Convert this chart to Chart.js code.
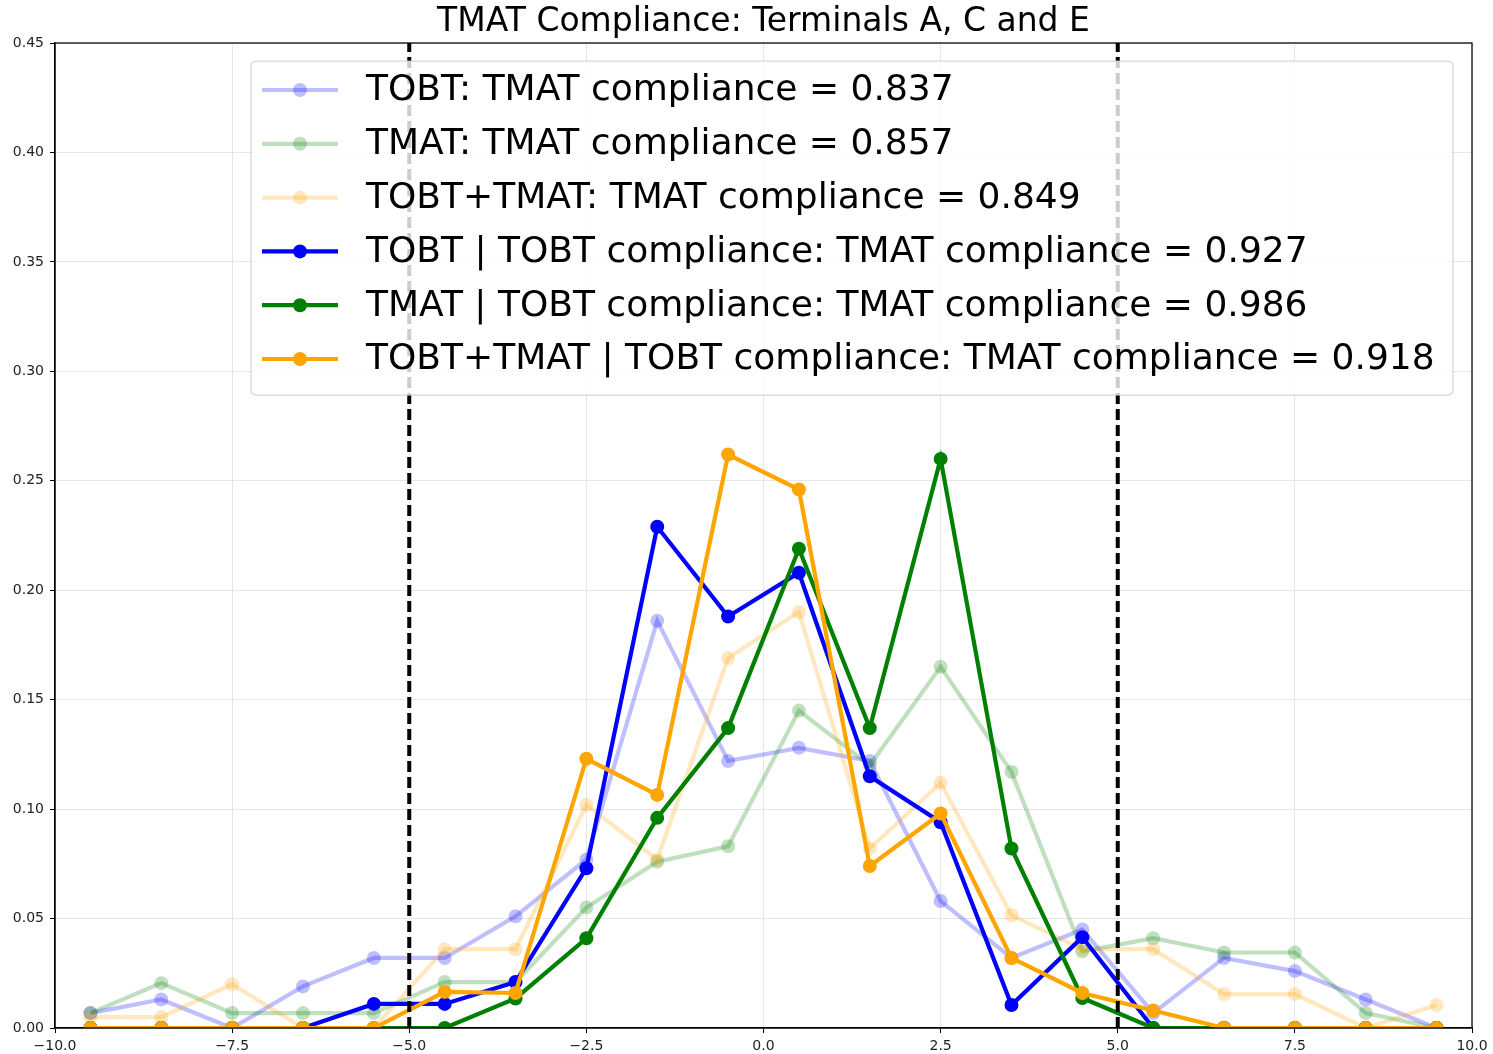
<!DOCTYPE html>
<html>
<head>
<meta charset="utf-8">
<script src="https://cdn.jsdelivr.net/npm/chart.js@4.4.1/dist/chart.umd.min.js"></script>
<style>
  html, body { margin: 0; padding: 0; background: #fff; }
  canvas { display: block; }
</style>
</head>
<body>
<canvas id="chart" width="1493" height="1054"></canvas>
<script>
// bin centres on the x axis
const xBins = [-9.5, -8.5, -7.5, -6.5, -5.5, -4.5, -3.5, -2.5, -1.5, -0.5,
               0.5, 1.5, 2.5, 3.5, 4.5, 5.5, 6.5, 7.5, 8.5, 9.5];

const tobt = [0.0068, 0.013, 0, 0.019, 0.032, 0.032, 0.051, 0.077, 0.186, 0.122,
              0.128, 0.122, 0.058, 0.032, 0.045, 0.0068, 0.032, 0.026, 0.013, 0];
const tmat = [0.0068, 0.0205, 0.0068, 0.0068, 0.0068, 0.021, 0.021, 0.055, 0.076, 0.083,
              0.145, 0.12, 0.165, 0.117, 0.035, 0.041, 0.0345, 0.0345, 0.0068, 0];
const both = [0.005, 0.005, 0.020, 0, 0, 0.036, 0.036, 0.102, 0.077, 0.169,
              0.190, 0.082, 0.112, 0.0515, 0.036, 0.036, 0.0155, 0.0155, 0, 0.0105];
const tobtGivenTobt = [0, 0, 0, 0, 0.011, 0.011, 0.021, 0.073, 0.229, 0.188,
                       0.208, 0.115, 0.094, 0.0105, 0.0415, 0, 0, 0, 0, 0];
const tmatGivenTobt = [0, 0, 0, 0, 0, 0, 0.0135, 0.041, 0.096, 0.137,
                       0.219, 0.137, 0.260, 0.082, 0.0137, 0, 0, 0, 0, 0];
const bothGivenTobt = [0, 0, 0, 0, 0, 0.0165, 0.016, 0.123, 0.1065, 0.262,
                       0.246, 0.074, 0.098, 0.032, 0.016, 0.008, 0, 0, 0, 0];

const seriesLabels = [
  "TOBT: TMAT compliance = 0.837",
  "TMAT: TMAT compliance = 0.857",
  "TOBT+TMAT: TMAT compliance = 0.849",
  "TOBT | TOBT compliance: TMAT compliance = 0.927",
  "TMAT | TOBT compliance: TMAT compliance = 0.986",
  "TOBT+TMAT | TOBT compliance: TMAT compliance = 0.918"
];

const chartTitle = "TMAT Compliance: Terminals A, C and E";

// compliance window
const windowEdges = [-5, 5];

const xTicks = [-10, -7.5, -5, -2.5, 0, 2.5, 5, 7.5, 10];
const yTicks = [0, 0.05, 0.10, 0.15, 0.20, 0.25, 0.30, 0.35, 0.40, 0.45];

const FONT = "'DejaVu Sans', 'Liberation Sans', sans-serif";

function toPoints(values) {
  return values.map((v, i) => ({ x: xBins[i], y: v }));
}

function series(label, values, color) {
  return {
    label: label,
    data: toPoints(values),
    showLine: true,
    borderColor: color,
    backgroundColor: color,
    pointBackgroundColor: color,
    pointBorderColor: color,
    borderWidth: 4.2,
    pointRadius: 7,
    pointBorderWidth: 0,
    pointHoverRadius: 7,
    tension: 0,
    inLegend: true
  };
}

const datasets = [
  series(seriesLabels[0], tobt, "rgba(0,0,255,0.25)"),
  series(seriesLabels[1], tmat, "rgba(0,128,0,0.25)"),
  series(seriesLabels[2], both, "rgba(255,165,0,0.25)"),
  series(seriesLabels[3], tobtGivenTobt, "#0000ff"),
  series(seriesLabels[4], tmatGivenTobt, "#008000"),
  series(seriesLabels[5], bothGivenTobt, "#ffa500")
];

windowEdges.forEach(x => {
  datasets.push({
    label: "window " + x,
    data: [{ x: x, y: yTicks[0] }, { x: x, y: yTicks[yTicks.length - 1] }],
    showLine: true,
    borderColor: "#000",
    borderWidth: 4,
    borderDash: [11, 5],
    pointRadius: 0,
    pointHoverRadius: 0,
    inLegend: false
  });
});

// later datasets are drawn on top, as in matplotlib
datasets.forEach((d, i) => { d.order = datasets.length - i; });

// axes box + title centred over the plot area (matplotlib style)
const framePlugin = {
  id: "frame",
  afterDatasetsDraw(chart) {
    const a = chart.chartArea;
    const ctx = chart.ctx;
    ctx.save();
    ctx.strokeStyle = "#000";
    ctx.lineWidth = 1.25;
    ctx.strokeRect(a.left, a.top, a.right - a.left, a.bottom - a.top);
    ctx.font = "33px " + FONT;
    ctx.fillStyle = "#000";
    ctx.textAlign = "center";
    ctx.textBaseline = "middle";
    ctx.fillText(chartTitle, (a.left + a.right) / 2, 22);
    ctx.restore();
  }
};

const legendPlugin = {
  id: "boxLegend",
  afterDraw(chart) {
    const ctx = chart.ctx;
    const items = chart.data.datasets.filter(d => d.inLegend);
    const box = { x: 251, y: 61, w: 1202, h: 334 };
    ctx.save();
    ctx.beginPath();
    ctx.roundRect(box.x, box.y, box.w, box.h, 5);
    ctx.fillStyle = "rgba(255,255,255,0.8)";
    ctx.fill();
    ctx.strokeStyle = "rgba(204,204,204,0.8)";
    ctx.lineWidth = 1.25;
    ctx.stroke();

    ctx.font = "36px " + FONT;
    ctx.textBaseline = "middle";
    ctx.textAlign = "left";
    items.forEach((d, i) => {
      const y = 90 + i * 53.8;
      ctx.strokeStyle = d.borderColor;
      ctx.lineWidth = d.borderWidth;
      ctx.beginPath();
      ctx.moveTo(262, y);
      ctx.lineTo(338, y);
      ctx.stroke();
      ctx.fillStyle = d.pointBackgroundColor;
      ctx.beginPath();
      ctx.arc(300, y, d.pointRadius, 0, Math.PI * 2);
      ctx.fill();
      ctx.fillStyle = "#000";
      ctx.fillText(d.label, 366, y + 1);
    });
    ctx.restore();
  }
};

new Chart(document.getElementById("chart").getContext("2d"), {
  type: "scatter",
  data: { datasets: datasets },
  options: {
    responsive: false,
    animation: false,
    devicePixelRatio: 1,
    layout: { padding: { left: 0, right: 21, top: 43, bottom: 0 } },
    plugins: {
      legend: { display: false },
      tooltip: { enabled: false },
      title: { display: false }
    },
    scales: {
      x: {
        type: "linear",
        min: xTicks[0],
        max: xTicks[xTicks.length - 1],
        afterBuildTicks: s => { s.ticks = xTicks.map(v => ({ value: v })); },
        afterFit: s => { s.height = 26; },
        grid: { color: "#e6e6e6", lineWidth: 1, tickLength: 5, tickColor: "#000" },
        border: { display: true, color: "#000", width: 1.25 },
        ticks: {
          color: "#222",
          padding: 5,
          maxRotation: 0,
          font: { family: FONT, size: 14 },
          callback: v => v.toFixed(1).replace("-", "\u2212")
        }
      },
      y: {
        type: "linear",
        min: yTicks[0],
        max: yTicks[yTicks.length - 1],
        afterBuildTicks: s => { s.ticks = yTicks.map(v => ({ value: v })); },
        afterFit: s => { s.width = 55; },
        grid: { color: "#e6e6e6", lineWidth: 1, tickLength: 5, tickColor: "#000" },
        border: { display: true, color: "#000", width: 1.25 },
        ticks: {
          color: "#222",
          padding: 6,
          font: { family: FONT, size: 14 },
          callback: v => v.toFixed(2)
        }
      }
    }
  },
  plugins: [framePlugin, legendPlugin]
});
</script>
</body>
</html>
